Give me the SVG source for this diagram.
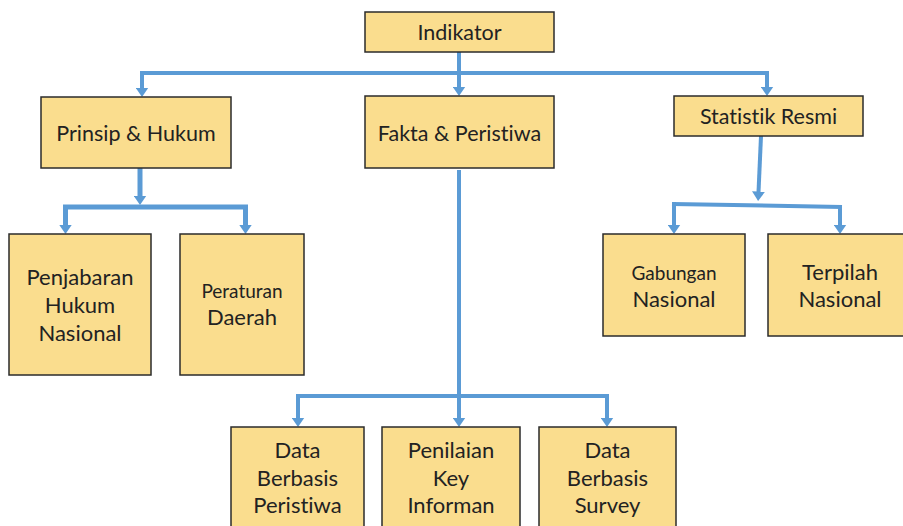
<svg xmlns="http://www.w3.org/2000/svg" width="903" height="526" viewBox="0 0 903 526">
  <defs>
    <!-- arrowhead starts where the stroke stops and extends 9px past it -->
    <marker id="arrow" markerUnits="userSpaceOnUse" markerWidth="10" markerHeight="13" refX="0.5" refY="6.5" orient="auto">
      <path d="M0,0 L9.5,6.5 L0,13 Z" fill="#5B9BD5"/>
    </marker>
    <style>
      .box { fill: #FADD8E; stroke: #2b2b2b; stroke-width: 1.5; }
      .lbl { font-family: Lato, "Open Sans", "Liberation Sans", sans-serif; fill: #222; text-anchor: middle; font-variant-ligatures: none; }
      .l22 { font-size: 22px; }
      .l21 { font-size: 21.5px; }
      .l19 { font-size: 19px; }
      .conn { fill: none; stroke: #5B9BD5; stroke-width: 4; }
      .tip { fill: none; stroke: #5B9BD5; stroke-width: 4; marker-end: url(#arrow); }
      .thick { stroke-width: 5; }
    </style>
  </defs>
  <rect width="903" height="526" fill="#ffffff"/>

  <g id="connectors">
    <!-- Indikator to level 1 -->
    <path class="tip" d="M459,52 V87"/>
    <path class="conn" d="M142,73 H767"/>
    <path class="tip" d="M142,71 V88"/>
    <path class="tip" d="M767,71 V87"/>
    <!-- Prinsip & Hukum to children -->
    <path class="tip thick" d="M140,168 V196"/>
    <path class="conn thick" d="M63,207 H248"/>
    <path class="tip thick" d="M65.5,205 V225"/>
    <path class="tip thick" d="M245.5,205 V225"/>
    <!-- Fakta & Peristiwa to children -->
    <path class="conn" d="M459,170 V396"/>
    <path class="conn" d="M296,396 H609"/>
    <path class="tip" d="M298,394 V418"/>
    <path class="tip" d="M459,396 V418"/>
    <path class="tip" d="M607,394 V418"/>
    <!-- Statistik Resmi to children -->
    <path class="tip" d="M761,136 L758.5,192"/>
    <path class="conn" d="M672,204 L842,207"/>
    <path class="tip" d="M674,202 V225"/>
    <path class="tip" d="M840,205 V225"/>
  </g>

  <g id="indikator">
    <rect class="box" x="365" y="12" width="189" height="40"/>
    <text class="lbl l21" x="459.5" y="40">Indikator</text>
  </g>

  <g id="prinsip-hukum">
    <rect class="box" x="41" y="97" width="190" height="71"/>
    <text class="lbl l21" x="136" y="141">Prinsip &amp; Hukum</text>
  </g>

  <g id="fakta-peristiwa">
    <rect class="box" x="365" y="96" width="189" height="72"/>
    <text class="lbl l21" x="459.5" y="141">Fakta &amp; Peristiwa</text>
  </g>

  <g id="statistik-resmi">
    <rect class="box" x="674" y="96" width="189" height="40"/>
    <text class="lbl l21" x="768.5" y="124">Statistik Resmi</text>
  </g>

  <g id="penjabaran">
    <rect class="box" x="9" y="234" width="142" height="141"/>
    <text class="lbl l22" x="80" y="285">Penjabaran</text>
    <text class="lbl l22" x="80" y="313">Hukum</text>
    <text class="lbl l22" x="80" y="341">Nasional</text>
  </g>

  <g id="peraturan-daerah">
    <rect class="box" x="180" y="234" width="124" height="141"/>
    <text class="lbl l19" x="242" y="298">Peraturan</text>
    <text class="lbl l22" x="242" y="325">Daerah</text>
  </g>

  <g id="gabungan-nasional">
    <rect class="box" x="603" y="234" width="142" height="102"/>
    <text class="lbl l19" x="674" y="280">Gabungan</text>
    <text class="lbl l22" x="674" y="307">Nasional</text>
  </g>

  <g id="terpilah-nasional">
    <rect class="box" x="768" y="234" width="140" height="102"/>
    <text class="lbl l22" x="840" y="280">Terpilah</text>
    <text class="lbl l22" x="840" y="307">Nasional</text>
  </g>

  <g id="data-peristiwa">
    <rect class="box" x="231" y="427" width="133" height="105"/>
    <text class="lbl l22" x="297.5" y="458">Data</text>
    <text class="lbl l22" x="297.5" y="486">Berbasis</text>
    <text class="lbl l22" x="297.5" y="513">Peristiwa</text>
  </g>

  <g id="penilaian-informan">
    <rect class="box" x="382" y="427" width="138" height="105"/>
    <text class="lbl l22" x="451" y="458">Penilaian</text>
    <text class="lbl l22" x="451" y="486">Key</text>
    <text class="lbl l22" x="451" y="513">Informan</text>
  </g>

  <g id="data-survey">
    <rect class="box" x="539" y="427" width="137" height="105"/>
    <text class="lbl l22" x="607.5" y="458">Data</text>
    <text class="lbl l22" x="607.5" y="486">Berbasis</text>
    <text class="lbl l22" x="607.5" y="513">Survey</text>
  </g>
</svg>
